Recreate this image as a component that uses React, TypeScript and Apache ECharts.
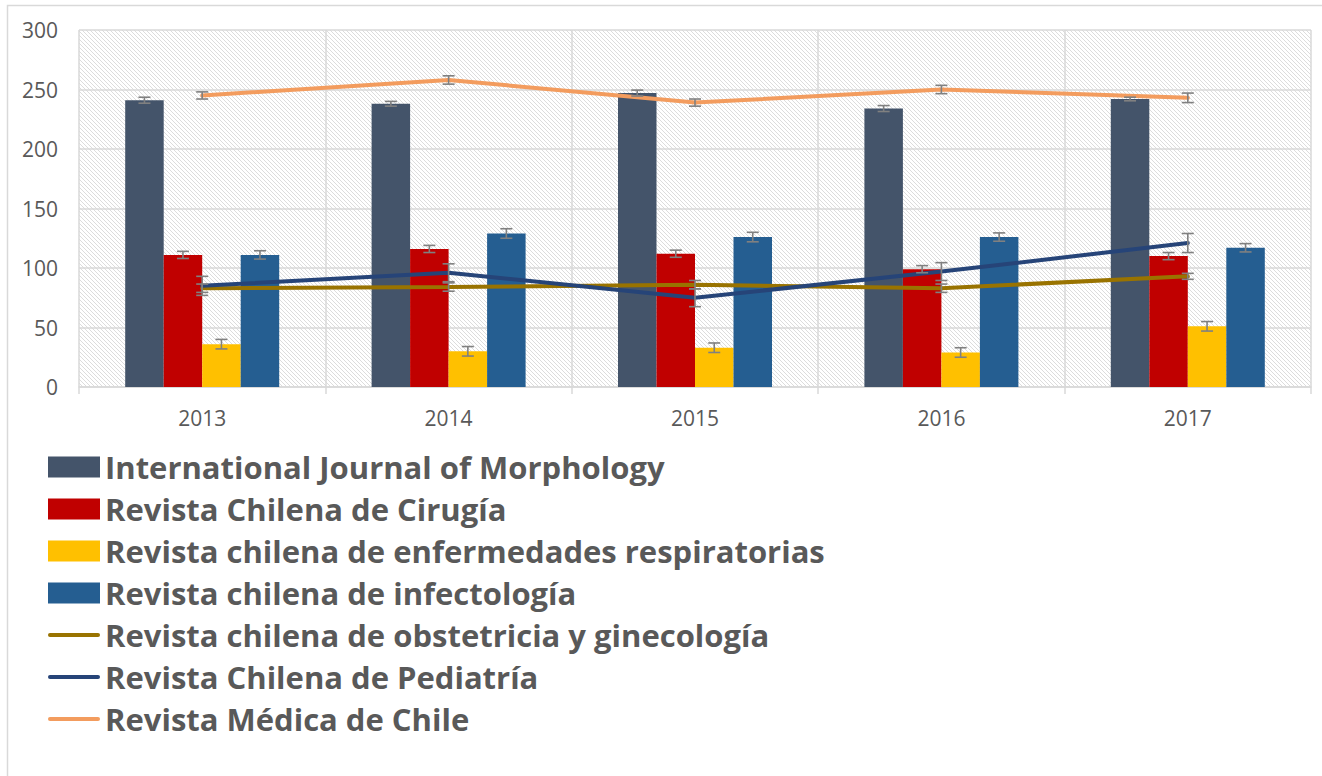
import React, { useEffect, useRef } from "react";
import * as echarts from "echarts";

const years = ["2013", "2014", "2015", "2016", "2017"];
const yTicks = [0, 50, 100, 150, 200, 250, 300];

const ijm = [241, 238, 247, 234, 242];
const cirugia = [111, 116, 112, 99, 110];
const respir = [36, 30, 33, 29, 51];
const infecto = [111, 129, 126, 126, 117];
const obst = [83, 84, 86, 83, 93];
const pediatria = [85, 96, 75, 97, 121];
const medica = [245, 258, 239, 250, 243];

const ijmErr = [2.5, 2, 2.5, 2.5, 1.5];
const cirugiaErr = [3, 3, 3, 3, 3];
const respirErr = [4, 4, 4, 4, 4];
const infectoErr = [3.5, 4, 4, 3.5, 3.5];
const obstErr = [3.5, 3.5, 3.5, 3.5, 2.5];
const pediatriaErr = [8, 7.5, 7.5, 7.5, 8];
const medicaErr = [3, 3.5, 3, 3.5, 4];

const names = [
  "International Journal of Morphology",
  "Revista Chilena de Cirugía",
  "Revista chilena de enfermedades respiratorias",
  "Revista chilena de infectología",
  "Revista chilena de obstetricia y ginecología",
  "Revista Chilena de Pediatría",
  "Revista Médica de Chile",
];
const colors = ["#44546A", "#C00000", "#FFC000", "#255E91", "#997300", "#264478", "#F39C5E"];

const CAT_GAP = 0.375;
const LINE_ICON =
  "path://M0,0 M52,21 M2,8.5 L50,8.5 A2,2 0 0 1 50,12.5 L2,12.5 A2,2 0 0 1 2,8.5 Z";

function makePattern() {
  const c = document.createElement("canvas");
  c.width = 4;
  c.height = 4;
  const ctx = c.getContext("2d")!;
  ctx.fillStyle = "#ffffff";
  ctx.fillRect(0, 0, 4, 4);
  ctx.fillStyle = "#dcdcdc";
  for (let i = 0; i < 4; i++) ctx.fillRect(i, i, 1, 1);
  return { image: c.toDataURL(), imageWidth: 4, imageHeight: 4, repeat: "repeat" };
}

function errSeries(vals: number[], errs: number[], offset: number | null) {
  return {
    type: "custom",
    z: 10,
    silent: true,
    data: vals.map((v, i) => [i, v, errs[i]]),
    encode: { x: 0, y: 1 },
    renderItem: (params: any, api: any) => {
      const ci = api.value(0);
      const v = api.value(1);
      const e = api.value(2);
      const top = api.coord([ci, v + e]);
      const bot = api.coord([ci, v - e]);
      const catW = api.size([1, 0])[0];
      const bw = (catW * (1 - CAT_GAP)) / 4;
      const x = top[0] + (offset == null ? 0 : offset * bw);
      const cap = 6;
      const style = { stroke: "#808080", lineWidth: 1.6 };
      return {
        type: "group",
        children: [
          { type: "line", shape: { x1: x, y1: top[1], x2: x, y2: bot[1] }, style },
          { type: "line", shape: { x1: x - cap, y1: top[1], x2: x + cap, y2: top[1] }, style },
          { type: "line", shape: { x1: x - cap, y1: bot[1], x2: x + cap, y2: bot[1] }, style },
        ],
      };
    },
  };
}

export default function App() {
  const ref = useRef<HTMLDivElement>(null);
  useEffect(() => {
    const chart = echarts.init(ref.current!, null, { renderer: "svg" });
    const barData = [ijm, cirugia, respir, infecto];
    const lineData = [obst, pediatria, medica];
    const barErr = [ijmErr, cirugiaErr, respirErr, infectoErr];
    const lineErr = [obstErr, pediatriaErr, medicaErr];
    const series: any[] = [];
    barData.forEach((d, k) => {
      series.push({
        name: names[k],
        type: "bar",
        data: d,
        barGap: "0%",
        barCategoryGap: CAT_GAP * 100 + "%",
        itemStyle: { color: colors[k] },
        z: 2,
      });
    });
    lineData.forEach((d, k) => {
      series.push({
        name: names[4 + k],
        type: "line",
        data: d,
        symbol: "none",
        lineStyle: { color: colors[4 + k], width: 4, cap: "round" },
        itemStyle: { color: colors[4 + k] },
        z: 5,
      });
    });
    barData.forEach((d, k) => series.push(errSeries(d, barErr[k], k - 1.5)));
    lineData.forEach((d, k) => series.push(errSeries(d, lineErr[k], null)));

    chart.setOption({
      animation: false,
      backgroundColor: "#ffffff",
      grid: {
        left: 79,
        right: 11,
        top: 30,
        bottom: 389,
        show: true,
        borderWidth: 0,
        backgroundColor: makePattern(),
      },
      xAxis: {
        type: "category",
        data: years,
        axisLine: { lineStyle: { color: "#d9d9d9", width: 1.5 } },
        axisTick: { show: true, length: 7, lineStyle: { color: "#d9d9d9", width: 1.5 } },
        splitLine: { show: true, lineStyle: { color: "#d9d9d9", width: 1.5 } },
        axisLabel: { color: "#595959", fontSize: 21, fontFamily: "Open Sans", margin: 20 },
      },
      yAxis: {
        type: "value",
        min: yTicks[0],
        max: yTicks[yTicks.length - 1],
        interval: 50,
        axisLine: { show: false },
        axisTick: { show: false },
        splitLine: { lineStyle: { color: "#d9d9d9", width: 1.5 } },
        axisLabel: { color: "#595959", fontSize: 21, fontFamily: "Open Sans", margin: 21 },
      },
      legend: {
        orient: "vertical",
        left: 48,
        top: 446,
        padding: 0,
        itemGap: 0,
        itemWidth: 52,
        itemHeight: 21,
        data: names.map((n, i) =>
          i < 4 ? { name: n, icon: "rect" } : { name: n, icon: LINE_ICON }
        ),
        textStyle: {
          color: "#595959",
          fontSize: 31,
          fontWeight: "bold",
          fontFamily: "Open Sans",
          lineHeight: 42,
        },
      },
      graphic: [
        {
          type: "rect",
          shape: { x: 7.5, y: 5.5, width: 1400, height: 900 },
          style: { fill: "none", stroke: "#d9d9d9", lineWidth: 1.5 },
          silent: true,
          z: -10,
        },
      ],
      series,
    });
    return () => chart.dispose();
  }, []);
  return (
    <div
      ref={ref}
      style={{ position: "absolute", left: 0, top: 0, width: 1322, height: 776 }}
    />
  );
}
